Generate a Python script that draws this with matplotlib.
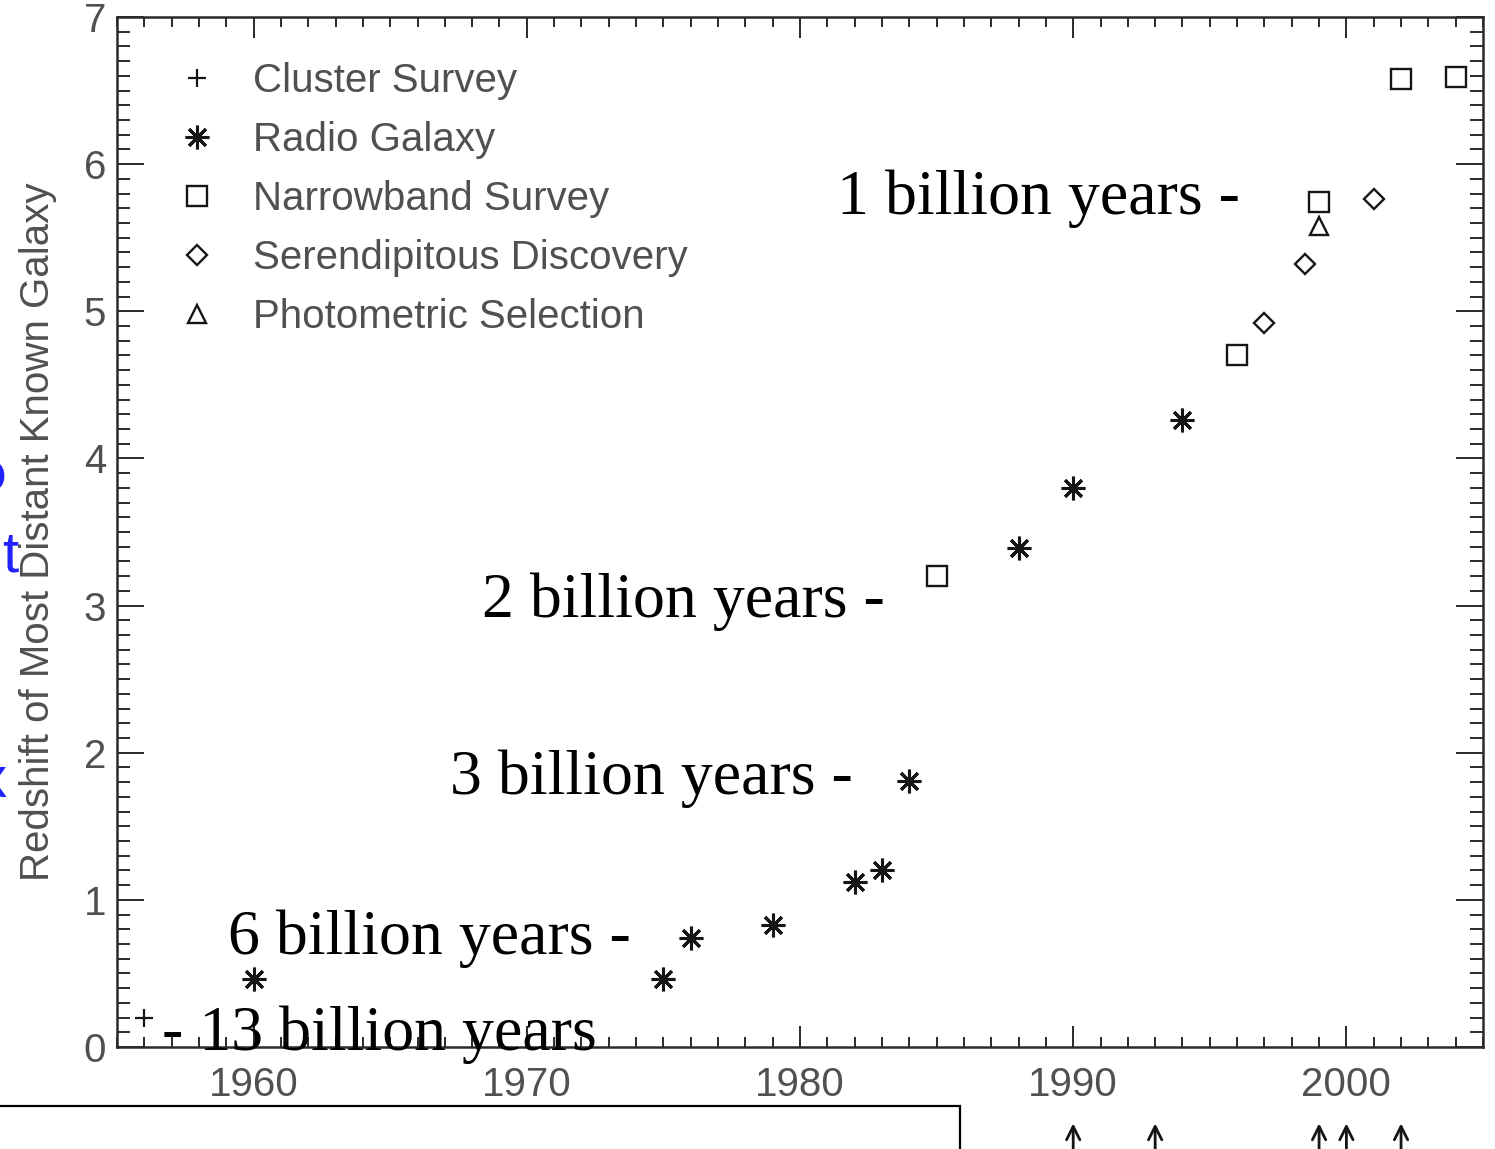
import matplotlib
matplotlib.use("Agg")
import matplotlib.pyplot as plt
from matplotlib.patches import Rectangle
from matplotlib.ticker import MultipleLocator

# discovery year and redshift of the record holder, by search method
cluster_year = [1956]
cluster_z = [0.20]

radio_year = [1960, 1975, 1976, 1979, 1982, 1983, 1984, 1988, 1990, 1994]
radio_z = [0.46, 0.46, 0.74, 0.83, 1.12, 1.20, 1.81, 3.39, 3.80, 4.26]

narrow_year = [1985, 1996, 1999, 2002, 2004]
narrow_z = [3.20, 4.70, 5.74, 6.58, 6.59]

seren_year = [1997, 1998.5, 2001]
seren_z = [4.92, 5.32, 5.76]

photo_year = [1999]
photo_z = [5.58]

# look-back time labels: (text, year, redshift) anchor of left edge / baseline
age_labels = ["1 billion years -", "2 billion years -", "3 billion years -",
              "6 billion years -", "- 13 billion years"]
age_x = [1981.35, 1968.35, 1967.2, 1959.05, 1956.65]
age_y = [5.66, 2.92, 1.72, 0.63, -0.02]

arrow_years = [1990, 1993, 1999, 2000, 2002]

gray = "#505050"
ink = "#151515"
sans = ["Liberation Sans", "DejaVu Sans"]
serif = ["Liberation Serif", "DejaVu Serif"]

fig = plt.figure(figsize=(14.95, 11.49), dpi=100)
ax = fig.add_axes([117 / 1495, 1 - 1047 / 1149, 1366 / 1495, 1030 / 1149])

ax.plot(cluster_year, cluster_z, ls="none", marker="+", ms=13, mew=1.6,
        color=ink, label="Cluster Survey")
ax.plot(radio_year, radio_z, ls="none", marker=(8, 2, 0), ms=17, mew=2.2,
        color=ink, label="Radio Galaxy")
ax.plot(narrow_year, narrow_z, ls="none", marker="s", ms=14, mew=1.7,
        mfc="white", mec=ink, label="Narrowband Survey")
ax.plot(seren_year, seren_z, ls="none", marker="D", ms=10, mew=1.7,
        mfc="white", mec=ink, label="Serendipitous Discovery")
ax.plot(photo_year, photo_z, ls="none", marker="^", ms=13, mew=1.7,
        mfc="white", mec=ink, label="Photometric Selection")

ax.set_xlim(1955, 2005)
ax.set_ylim(0, 7)
ax.xaxis.set_major_locator(MultipleLocator(10))
ax.xaxis.set_minor_locator(MultipleLocator(1))
ax.yaxis.set_major_locator(MultipleLocator(1))
ax.yaxis.set_minor_locator(MultipleLocator(0.1))

for s in ax.spines.values():
    s.set_linewidth(1.8)
    s.set_color("#2a2a2a")
ax.tick_params(axis="both", which="both", direction="in", top=True, right=True,
               color="#2a2a2a", width=1.4, labelcolor=gray, labelsize=29)
ax.tick_params(axis="x", which="major", length=15, pad=14)
ax.tick_params(axis="x", which="minor", length=7.5)
ax.tick_params(axis="y", which="major", length=19.5, pad=8)
ax.tick_params(axis="y", which="minor", length=9.5)
for lbl in ax.get_xticklabels() + ax.get_yticklabels():
    lbl.set_family(sans)

ax.set_ylabel("Redshift of Most Distant Known Galaxy", fontsize=29,
              color=gray, family=sans, labelpad=19)

leg = ax.legend(loc="upper left", bbox_to_anchor=(0.044, 0.956), frameon=False,
                prop={"family": sans, "size": 29}, labelcolor=gray,
                handlelength=1.0, handletextpad=0.88, labelspacing=0.52,
                borderaxespad=0, borderpad=0, numpoints=1)

for t, x, y in zip(age_labels, age_x, age_y):
    ax.text(x, y, t, fontsize=46, family=serif, color="black",
            ha="left", va="baseline", clip_on=False, zorder=5)

# arrows under the year axis
for yr in arrow_years:
    ax.annotate("", xy=(yr, -0.5), xytext=(yr, -0.8), xycoords="data",
                annotation_clip=False,
                arrowprops=dict(arrowstyle="->", lw=2.0, color=ink,
                                mutation_scale=24))

# frame of the caption box at the lower left
fig.patches.append(Rectangle((-0.01, -0.05), 960 / 1495 + 0.01, 0.05 + 1 - 1106 / 1149,
                             transform=fig.transFigure, fill=False,
                             edgecolor="black", lw=1.6))

# clipped slide title letters at the left edge
fig.text(18 / 1495, 1 - 572 / 1149, "t", color="#2222ff", fontsize=42,
         family=sans, ha="right", va="baseline")
fig.text(6 / 1495, 1 - 492 / 1149, "o", color="#2222ff", fontsize=42,
         family=sans, ha="right", va="baseline", weight="bold")
fig.text(7 / 1495, 1 - 797 / 1149, "x", color="#2222ff", fontsize=42,
         family=sans, ha="right", va="baseline")

fig.savefig("out.png", dpi=100)
